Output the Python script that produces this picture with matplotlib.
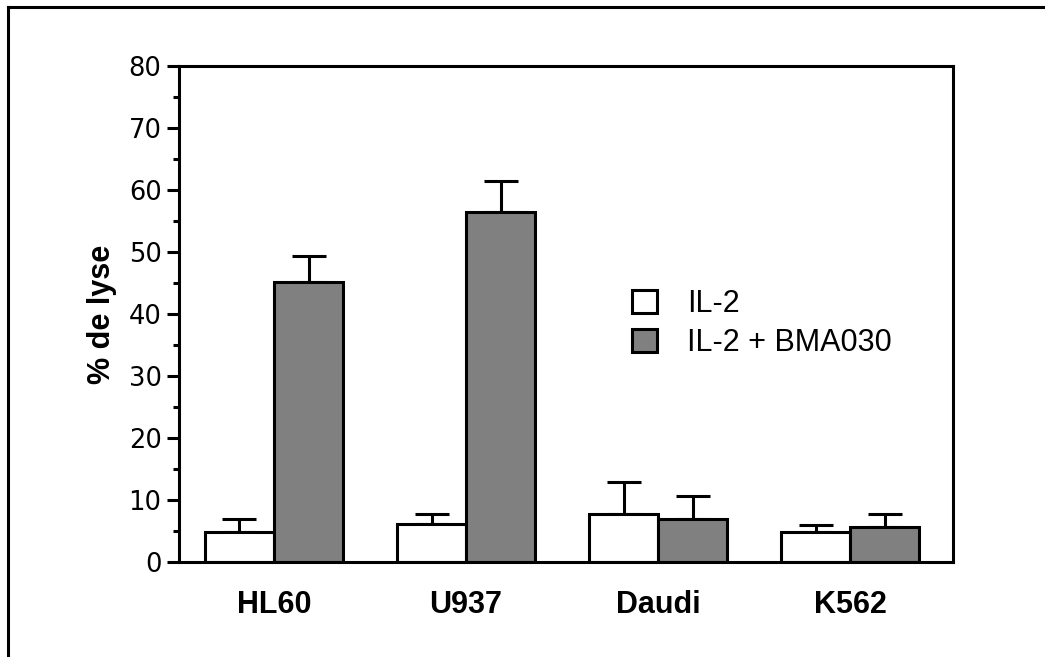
import numpy as np
import matplotlib
matplotlib.use('Agg')
import matplotlib.pyplot as plt
from matplotlib.patches import Patch
from matplotlib.lines import Line2D

# Données
lignees = ['HL60', 'U937', 'Daudi', 'K562']
il2 = [4.8, 6.1, 7.7, 4.8]
il2_err = [2.1, 1.6, 5.2, 1.2]
bma = [45.2, 56.4, 6.9, 5.6]
bma_err = [4.2, 5.1, 3.8, 2.1]
serie_noms = ['IL-2', 'IL-2 + BMA030']

plt.rcParams['font.family'] = ['DejaVu Sans']

fig = plt.figure(figsize=(10.45, 6.57), dpi=100)
ax = fig.add_axes([0.1713, 0.1446, 0.7407, 0.755])

x = np.arange(len(lignees))
w = 0.36
lw = 2.2

ax.bar(x - w / 2, il2, w, color='white', edgecolor='black', linewidth=lw, zorder=2)
ax.bar(x + w / 2, bma, w, color='#808080', edgecolor='black', linewidth=lw, zorder=2)

zeros = np.zeros(len(x))
ax.errorbar(x - w / 2, il2, yerr=[zeros, il2_err], fmt='none', ecolor='black',
            elinewidth=lw, capsize=12.3, capthick=lw, zorder=1)
ax.errorbar(x + w / 2, bma, yerr=[zeros, bma_err], fmt='none', ecolor='black',
            elinewidth=lw, capsize=12.3, capthick=lw, zorder=1)

ax.set_xlim(-0.495, 3.536)
ax.set_ylim(0, 80)
ax.set_yticks(np.arange(0, 81, 10))
ax.set_yticks(np.arange(5, 80, 10), minor=True)
ax.set_xticks(x)
ax.set_xticklabels(lignees, fontsize=22, fontweight='bold', family='Liberation Sans')
ax.tick_params(axis='x', length=0, pad=20)
ax.tick_params(axis='y', which='major', direction='out', length=8.6, width=lw,
               labelsize=18.5, pad=4, labelfontfamily='DejaVu Sans')
ax.tick_params(axis='y', which='minor', direction='out', length=4.3, width=lw)

for s in ax.spines.values():
    s.set_linewidth(lw)

ax.set_ylabel('% de lyse', fontsize=22, fontweight='bold', family='Liberation Sans',
              labelpad=8)

handles = [Patch(facecolor='white', edgecolor='black', linewidth=lw),
           Patch(facecolor='#808080', edgecolor='black', linewidth=lw)]
leg = ax.legend(handles, serie_noms, loc='upper left', bbox_to_anchor=(632 / 1045, 1 - 289 / 657),
                bbox_transform=fig.transFigure, frameon=False, borderpad=0,
                prop={'family': 'Liberation Sans', 'size': 22},
                handlelength=0.82, handleheight=0.82, handletextpad=0.98,
                labelspacing=0.3, borderaxespad=0)

# cadre extérieur (haut et gauche)
fig.add_artist(Line2D([8 / 1045, 8 / 1045], [0, 1 - 7 / 657], color='black', linewidth=2.2,
                      transform=fig.transFigure))
fig.add_artist(Line2D([8 / 1045, 1], [1 - 7 / 657, 1 - 7 / 657], color='black', linewidth=2.2,
                      transform=fig.transFigure))

fig.savefig('out.png', dpi=100)
